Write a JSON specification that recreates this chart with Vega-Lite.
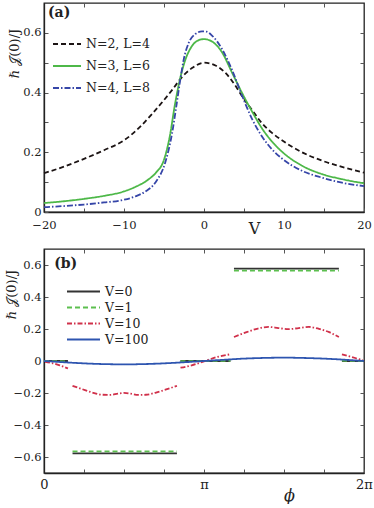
{
  "$schema": "https://vega.github.io/schema/vega-lite/v6.json",
  "padding": {"left": 4, "top": 1, "right": 8, "bottom": 0},
  "spacing": 10,
  "resolve": {"scale": {"color": "independent", "strokeDash": "independent"}, "legend": {"color": "independent", "strokeDash": "independent"}},
  "config": {
    "font": "DejaVu Serif",
    "view": {"stroke": "#222", "strokeWidth": 1.3},
    "text": {"font": "DejaVu Serif"},
    "axis": {"domainColor": "#222", "domainWidth": 1.3, "tickColor": "#555", "tickSize": -4, "labelPadding": 7, "labelColor": "#222", "labelFontSize": 11.5, "titleFontSize": 13, "titleFontWeight": "normal", "titleColor": "#222", "grid": false, "labelFont": "DejaVu Serif", "titleFont": "DejaVu Serif"},
    "legend": {"labelFont": "DejaVu Serif", "labelColor": "#222"}
  },
  "vconcat": [
    {
      "width": 320,
      "height": 209,
      "data": {"values": [
        {"series": "N=2, L=4", "V": -20, "J": 0.130},
        {"series": "N=2, L=4", "V": -17.5, "J": 0.152},
        {"series": "N=2, L=4", "V": -15, "J": 0.178},
        {"series": "N=2, L=4", "V": -12.5, "J": 0.207},
        {"series": "N=2, L=4", "V": -10, "J": 0.240},
        {"series": "N=2, L=4", "V": -8, "J": 0.285},
        {"series": "N=2, L=4", "V": -6.5, "J": 0.328},
        {"series": "N=2, L=4", "V": -5, "J": 0.375},
        {"series": "N=2, L=4", "V": -4, "J": 0.408},
        {"series": "N=2, L=4", "V": -2.75, "J": 0.452},
        {"series": "N=2, L=4", "V": -1.5, "J": 0.482},
        {"series": "N=2, L=4", "V": 0, "J": 0.500},
        {"series": "N=2, L=4", "V": 1.5, "J": 0.490},
        {"series": "N=2, L=4", "V": 2.75, "J": 0.464},
        {"series": "N=2, L=4", "V": 4, "J": 0.420},
        {"series": "N=2, L=4", "V": 4.75, "J": 0.388},
        {"series": "N=2, L=4", "V": 6, "J": 0.342},
        {"series": "N=2, L=4", "V": 7.25, "J": 0.297},
        {"series": "N=2, L=4", "V": 8.5, "J": 0.265},
        {"series": "N=2, L=4", "V": 9.75, "J": 0.240},
        {"series": "N=2, L=4", "V": 12.25, "J": 0.200},
        {"series": "N=2, L=4", "V": 14.75, "J": 0.172},
        {"series": "N=2, L=4", "V": 17.25, "J": 0.151},
        {"series": "N=2, L=4", "V": 20, "J": 0.132},
        {"series": "N=3, L=6", "V": -20, "J": 0.030},
        {"series": "N=3, L=6", "V": -17.5, "J": 0.036},
        {"series": "N=3, L=6", "V": -15, "J": 0.044},
        {"series": "N=3, L=6", "V": -12.5, "J": 0.054},
        {"series": "N=3, L=6", "V": -10, "J": 0.069},
        {"series": "N=3, L=6", "V": -8.5, "J": 0.085},
        {"series": "N=3, L=6", "V": -7, "J": 0.108},
        {"series": "N=3, L=6", "V": -6, "J": 0.132},
        {"series": "N=3, L=6", "V": -5, "J": 0.175},
        {"series": "N=3, L=6", "V": -4.3, "J": 0.250},
        {"series": "N=3, L=6", "V": -3.6, "J": 0.365},
        {"series": "N=3, L=6", "V": -2.96, "J": 0.450},
        {"series": "N=3, L=6", "V": -2.33, "J": 0.510},
        {"series": "N=3, L=6", "V": -1.5, "J": 0.556},
        {"series": "N=3, L=6", "V": -0.5, "J": 0.577},
        {"series": "N=3, L=6", "V": 0, "J": 0.579},
        {"series": "N=3, L=6", "V": 1, "J": 0.571},
        {"series": "N=3, L=6", "V": 2.25, "J": 0.535},
        {"series": "N=3, L=6", "V": 3.5, "J": 0.467},
        {"series": "N=3, L=6", "V": 4.75, "J": 0.399},
        {"series": "N=3, L=6", "V": 6, "J": 0.337},
        {"series": "N=3, L=6", "V": 7.25, "J": 0.280},
        {"series": "N=3, L=6", "V": 8.5, "J": 0.236},
        {"series": "N=3, L=6", "V": 9.75, "J": 0.202},
        {"series": "N=3, L=6", "V": 12.25, "J": 0.155},
        {"series": "N=3, L=6", "V": 14.75, "J": 0.127},
        {"series": "N=3, L=6", "V": 17.25, "J": 0.110},
        {"series": "N=3, L=6", "V": 20, "J": 0.096},
        {"series": "N=4, L=8", "V": -20, "J": 0.016},
        {"series": "N=4, L=8", "V": -17.5, "J": 0.020},
        {"series": "N=4, L=8", "V": -15, "J": 0.025},
        {"series": "N=4, L=8", "V": -12.5, "J": 0.032},
        {"series": "N=4, L=8", "V": -10, "J": 0.041},
        {"series": "N=4, L=8", "V": -8.5, "J": 0.053},
        {"series": "N=4, L=8", "V": -7.3, "J": 0.069},
        {"series": "N=4, L=8", "V": -6.1, "J": 0.098},
        {"series": "N=4, L=8", "V": -4.8, "J": 0.170},
        {"series": "N=4, L=8", "V": -4, "J": 0.262},
        {"series": "N=4, L=8", "V": -3.4, "J": 0.365},
        {"series": "N=4, L=8", "V": -2.96, "J": 0.444},
        {"series": "N=4, L=8", "V": -2.54, "J": 0.510},
        {"series": "N=4, L=8", "V": -1.9, "J": 0.567},
        {"series": "N=4, L=8", "V": -1.1, "J": 0.596},
        {"series": "N=4, L=8", "V": -0.25, "J": 0.605},
        {"series": "N=4, L=8", "V": 0.3, "J": 0.604},
        {"series": "N=4, L=8", "V": 1, "J": 0.591},
        {"series": "N=4, L=8", "V": 2.25, "J": 0.546},
        {"series": "N=4, L=8", "V": 3.5, "J": 0.476},
        {"series": "N=4, L=8", "V": 4.75, "J": 0.390},
        {"series": "N=4, L=8", "V": 6, "J": 0.312},
        {"series": "N=4, L=8", "V": 7.25, "J": 0.253},
        {"series": "N=4, L=8", "V": 8.5, "J": 0.210},
        {"series": "N=4, L=8", "V": 9.75, "J": 0.179},
        {"series": "N=4, L=8", "V": 12.25, "J": 0.138},
        {"series": "N=4, L=8", "V": 14.75, "J": 0.115},
        {"series": "N=4, L=8", "V": 17.25, "J": 0.098},
        {"series": "N=4, L=8", "V": 20, "J": 0.087}
      ]},
      "resolve": {"axis": {"x": "independent", "y": "independent"}},
      "layer": [
        {
          "mark": {"type": "line", "interpolate": "monotone", "strokeWidth": 1.8},
          "encoding": {
            "x": {"field": "V", "type": "quantitative", "scale": {"domain": [-20, 20], "nice": false, "zero": false},
              "axis": {"values": [-20, -15, -10, -5, 0, 5, 10, 15, 20], "labelExpr": "datum.value % 10 == 0 ? datum.label : ''", "labelPadding": 11, "title": "V", "titleX": 210, "titleY": 8, "titleBaseline": "top", "titleFontSize": 16, "labelFlush": false}},
            "y": {"field": "J", "type": "quantitative", "scale": {"domain": [0, 0.7], "nice": false, "zero": false},
              "axis": {"values": [0, 0.1, 0.2, 0.3, 0.4, 0.5, 0.6], "labelExpr": "datum.value == 0 ? '0' : (round(datum.value * 10) % 2 == 0 ? format(datum.value, '.1f') : '')", "title": "ℏ 𝒥(0)/J", "titleX": -30, "titleY": 50, "titleAngle": -90, "titleAlign": "center", "titleBaseline": "middle"}},
            "color": {"field": "series", "type": "nominal",
              "scale": {"domain": ["N=2, L=4", "N=3, L=6", "N=4, L=8"], "range": ["#1c1414", "#4db848", "#3646a8"]},
              "legend": {"title": null, "orient": "none", "legendX": 8, "legendY": 26, "symbolType": "stroke", "symbolSize": 784, "symbolStrokeWidth": 2, "labelFontSize": 12.5, "rowPadding": 0, "labelOffset": 4}},
            "strokeDash": {"field": "series", "type": "nominal",
              "scale": {"domain": ["N=2, L=4", "N=3, L=6", "N=4, L=8"], "range": [[5, 3], [1, 0], [6, 2, 1.5, 2]]},
              "legend": {"title": null, "orient": "none", "legendX": 8, "legendY": 26, "symbolType": "stroke", "symbolSize": 784, "symbolStrokeWidth": 2, "labelFontSize": 12.5, "rowPadding": 0, "labelOffset": 4}}
          }
        },
        {
          "data": {"values": [{"V": -19.5, "J": 0.665, "t": "(a)"}]},
          "mark": {"type": "text", "align": "left", "baseline": "middle", "fontWeight": "bold", "fontSize": 14, "color": "#222"},
          "encoding": {
            "x": {"field": "V", "type": "quantitative", "axis": {"orient": "top", "values": [-15, -10, -5, 0, 5, 10, 15], "labels": false, "title": null, "domain": false}},
            "y": {"field": "J", "type": "quantitative", "axis": {"orient": "right", "values": [0.1, 0.2, 0.3, 0.4, 0.5, 0.6], "labels": false, "title": null, "domain": false}},
            "text": {"field": "t"}
          }
        }
      ]
    },
    {
      "width": 320,
      "height": 224,
      "data": {"values": [
        {"series": "V=0", "seg": 1, "phi": 0, "J": 0},
        {"series": "V=0", "seg": 1, "phi": 0.47, "J": 0},
        {"series": "V=0", "seg": 2, "phi": 0.56, "J": -0.577},
        {"series": "V=0", "seg": 2, "phi": 2.61, "J": -0.577},
        {"series": "V=0", "seg": 3, "phi": 2.68, "J": 0},
        {"series": "V=0", "seg": 3, "phi": 3.66, "J": 0},
        {"series": "V=0", "seg": 4, "phi": 3.73, "J": 0.577},
        {"series": "V=0", "seg": 4, "phi": 5.79, "J": 0.577},
        {"series": "V=0", "seg": 5, "phi": 5.85, "J": 0},
        {"series": "V=0", "seg": 5, "phi": 6.2832, "J": 0},
        {"series": "V=1", "seg": 1, "phi": 0, "J": 0},
        {"series": "V=1", "seg": 1, "phi": 0.47, "J": -0.002},
        {"series": "V=1", "seg": 2, "phi": 0.56, "J": -0.565},
        {"series": "V=1", "seg": 2, "phi": 2.61, "J": -0.565},
        {"series": "V=1", "seg": 3, "phi": 2.68, "J": -0.001},
        {"series": "V=1", "seg": 3, "phi": 3.66, "J": 0.001},
        {"series": "V=1", "seg": 4, "phi": 3.73, "J": 0.565},
        {"series": "V=1", "seg": 4, "phi": 5.79, "J": 0.565},
        {"series": "V=1", "seg": 5, "phi": 5.85, "J": 0.002},
        {"series": "V=1", "seg": 5, "phi": 6.2832, "J": 0},
        {"series": "V=10", "seg": 1, "phi": 0.02, "J": -0.005},
        {"series": "V=10", "seg": 1, "phi": 0.16, "J": -0.013},
        {"series": "V=10", "seg": 1, "phi": 0.31, "J": -0.027},
        {"series": "V=10", "seg": 1, "phi": 0.47, "J": -0.047},
        {"series": "V=10", "seg": 2, "phi": 0.56, "J": -0.155},
        {"series": "V=10", "seg": 2, "phi": 0.75, "J": -0.176},
        {"series": "V=10", "seg": 2, "phi": 0.95, "J": -0.197},
        {"series": "V=10", "seg": 2, "phi": 1.15, "J": -0.211},
        {"series": "V=10", "seg": 2, "phi": 1.3, "J": -0.212},
        {"series": "V=10", "seg": 2, "phi": 1.45, "J": -0.204},
        {"series": "V=10", "seg": 2, "phi": 1.57, "J": -0.199},
        {"series": "V=10", "seg": 2, "phi": 1.7, "J": -0.204},
        {"series": "V=10", "seg": 2, "phi": 1.85, "J": -0.212},
        {"series": "V=10", "seg": 2, "phi": 2.0, "J": -0.211},
        {"series": "V=10", "seg": 2, "phi": 2.2, "J": -0.197},
        {"series": "V=10", "seg": 2, "phi": 2.4, "J": -0.178},
        {"series": "V=10", "seg": 2, "phi": 2.61, "J": -0.155},
        {"series": "V=10", "seg": 3, "phi": 2.68, "J": -0.042},
        {"series": "V=10", "seg": 3, "phi": 2.9, "J": -0.027},
        {"series": "V=10", "seg": 3, "phi": 3.14, "J": -0.002},
        {"series": "V=10", "seg": 3, "phi": 3.4, "J": 0.025},
        {"series": "V=10", "seg": 3, "phi": 3.66, "J": 0.042},
        {"series": "V=10", "seg": 4, "phi": 3.73, "J": 0.150},
        {"series": "V=10", "seg": 4, "phi": 3.95, "J": 0.177},
        {"series": "V=10", "seg": 4, "phi": 4.2, "J": 0.203},
        {"series": "V=10", "seg": 4, "phi": 4.41, "J": 0.213},
        {"series": "V=10", "seg": 4, "phi": 4.6, "J": 0.206},
        {"series": "V=10", "seg": 4, "phi": 4.8, "J": 0.199},
        {"series": "V=10", "seg": 4, "phi": 5.0, "J": 0.206},
        {"series": "V=10", "seg": 4, "phi": 5.2, "J": 0.213},
        {"series": "V=10", "seg": 4, "phi": 5.4, "J": 0.201},
        {"series": "V=10", "seg": 4, "phi": 5.6, "J": 0.180},
        {"series": "V=10", "seg": 4, "phi": 5.79, "J": 0.150},
        {"series": "V=10", "seg": 5, "phi": 5.85, "J": 0.042},
        {"series": "V=10", "seg": 5, "phi": 6.05, "J": 0.024},
        {"series": "V=10", "seg": 5, "phi": 6.26, "J": 0.005},
        {"series": "V=100", "seg": 1, "phi": 0, "J": 0},
        {"series": "V=100", "seg": 1, "phi": 0.4, "J": -0.008},
        {"series": "V=100", "seg": 1, "phi": 0.8, "J": -0.015},
        {"series": "V=100", "seg": 1, "phi": 1.2, "J": -0.0195},
        {"series": "V=100", "seg": 1, "phi": 1.57, "J": -0.021},
        {"series": "V=100", "seg": 1, "phi": 2.0, "J": -0.019},
        {"series": "V=100", "seg": 1, "phi": 2.4, "J": -0.014},
        {"series": "V=100", "seg": 1, "phi": 2.8, "J": -0.007},
        {"series": "V=100", "seg": 1, "phi": 3.14, "J": 0},
        {"series": "V=100", "seg": 1, "phi": 3.5, "J": 0.007},
        {"series": "V=100", "seg": 1, "phi": 3.9, "J": 0.0145},
        {"series": "V=100", "seg": 1, "phi": 4.3, "J": 0.019},
        {"series": "V=100", "seg": 1, "phi": 4.71, "J": 0.021},
        {"series": "V=100", "seg": 1, "phi": 5.1, "J": 0.019},
        {"series": "V=100", "seg": 1, "phi": 5.5, "J": 0.0148},
        {"series": "V=100", "seg": 1, "phi": 5.9, "J": 0.008},
        {"series": "V=100", "seg": 1, "phi": 6.2832, "J": 0}
      ]},
      "resolve": {"axis": {"x": "independent", "y": "independent"}},
      "layer": [
        {
          "mark": {"type": "line", "interpolate": "monotone", "strokeWidth": 1.8},
          "encoding": {
            "x": {"field": "phi", "type": "quantitative", "scale": {"domain": [0, 6.2832], "nice": false, "zero": false},
              "axis": {"values": [0, 0.7854, 1.5708, 2.3562, 3.1416, 3.927, 4.7124, 5.4978, 6.2832], "labelExpr": "datum.value < 0.1 ? '0' : (abs(datum.value - 3.1416) < 0.01 ? 'π' : (datum.value > 6.2 ? '2π' : ''))", "labelPadding": 9, "title": "ϕ", "titleX": 245, "titleY": 14, "titleBaseline": "top", "titleFontStyle": "italic", "titleFontSize": 16, "labelFlush": false, "labelFontSize": 13}},
            "y": {"field": "J", "type": "quantitative", "scale": {"domain": [-0.7, 0.7], "nice": false, "zero": false},
              "axis": {"values": [-0.6, -0.4, -0.2, 0, 0.2, 0.4, 0.6], "labelExpr": "datum.value == 0 ? '0' : format(datum.value, '.1f')", "title": "ℏ 𝒥(0)/J", "titleX": -33, "titleY": 45, "titleAngle": -90, "titleAlign": "center", "titleBaseline": "middle"}},
            "detail": {"field": "seg", "type": "nominal"},
            "color": {"field": "series", "type": "nominal",
              "scale": {"domain": ["V=0", "V=1", "V=10", "V=100"], "range": ["#333333", "#5cbf4f", "#d0304a", "#2e55b0"]},
              "legend": {"title": null, "orient": "none", "legendX": 22, "legendY": 35, "symbolType": "stroke", "symbolSize": 1089, "symbolStrokeWidth": 2, "labelFontSize": 12.5, "rowPadding": 1, "clipHeight": 15, "labelOffset": 4}},
            "strokeDash": {"field": "series", "type": "nominal",
              "scale": {"domain": ["V=0", "V=1", "V=10", "V=100"], "range": [[1, 0], [5, 3], [5, 2, 1.5, 2], [1, 0]]},
              "legend": {"title": null, "orient": "none", "legendX": 22, "legendY": 35, "symbolType": "stroke", "symbolSize": 1089, "symbolStrokeWidth": 2, "labelFontSize": 12.5, "rowPadding": 1, "clipHeight": 15, "labelOffset": 4}}
          }
        },
        {
          "data": {"values": [{"phi": 0.2, "J": 0.604, "t": "(b)"}]},
          "mark": {"type": "text", "align": "left", "baseline": "middle", "fontWeight": "bold", "fontSize": 14, "color": "#222"},
          "encoding": {
            "x": {"field": "phi", "type": "quantitative", "axis": {"orient": "top", "values": [0.7854, 1.5708, 2.3562, 3.1416, 3.927, 4.7124, 5.4978], "labels": false, "title": null, "domain": false}},
            "y": {"field": "J", "type": "quantitative", "axis": {"orient": "right", "values": [-0.6, -0.4, -0.2, 0, 0.2, 0.4, 0.6], "labels": false, "title": null, "domain": false}},
            "text": {"field": "t"}
          }
        }
      ]
    }
  ]
}
